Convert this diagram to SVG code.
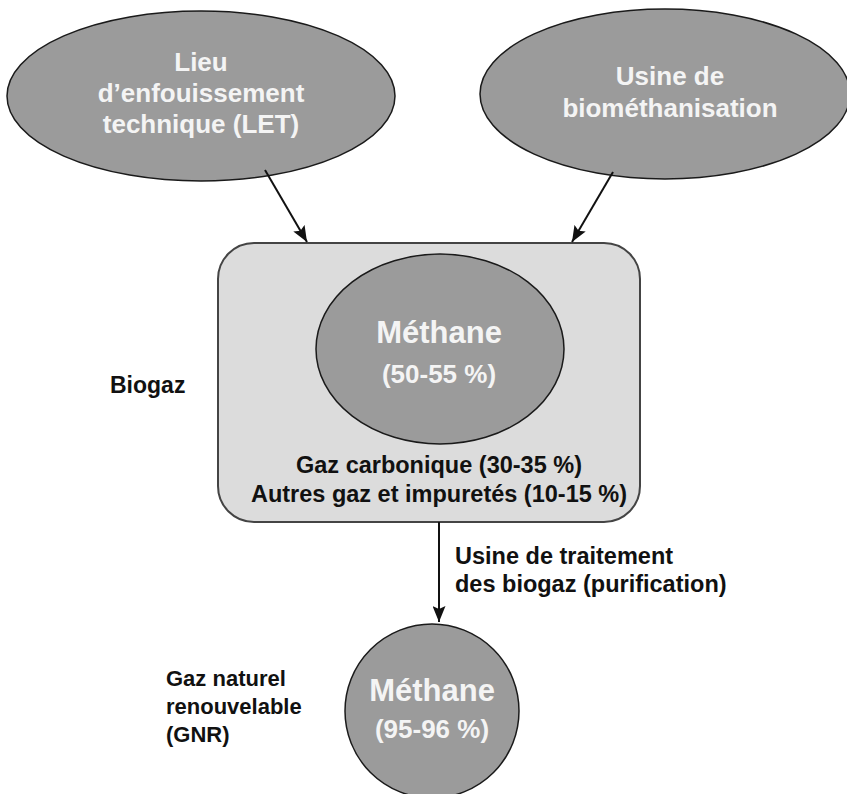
<svg xmlns="http://www.w3.org/2000/svg" width="847" height="794" viewBox="0 0 847 794">
<defs>
<style>
.shape{fill:#9b9b9b;stroke:#1a1a1a;stroke-width:1.5}
.box{fill:#dcdcdc;stroke:#444;stroke-width:2}
.wt{fill:#f4f4f4;font-family:"Liberation Sans",Arial,sans-serif;font-weight:bold;text-anchor:middle}
.bt{fill:#111;font-family:"Liberation Sans",Arial,sans-serif;font-weight:bold}
.conn{stroke:#111;stroke-width:2;fill:none}
</style>
<marker id="ah" viewBox="0 0 16 13" refX="16" refY="6.5" markerWidth="16" markerHeight="13" markerUnits="userSpaceOnUse" orient="auto">
<path d="M0,0 L16,6.5 L0,13 L3,6.5 Z" fill="#111"/>
</marker>
</defs>
<rect width="847" height="794" fill="#ffffff"/>
<g id="let">
<ellipse class="shape" cx="201" cy="96" rx="194" ry="85"/>
<text class="wt" font-size="26" x="201" y="71">Lieu</text>
<text class="wt" font-size="26" x="201" y="102">d’enfouissement</text>
<text class="wt" font-size="26" x="201" y="133">technique (LET)</text>
</g>
<g id="usine-bio">
<ellipse class="shape" cx="665" cy="94" rx="185" ry="85"/>
<text class="wt" font-size="26" x="670" y="85">Usine de</text>
<text class="wt" font-size="26" x="670" y="117">biométhanisation</text>
</g>
<g id="biogaz">
<rect class="box" x="218" y="243" width="422" height="279" rx="36" ry="36"/>
<ellipse class="shape" cx="440" cy="349" rx="124" ry="95"/>
<text class="wt" font-size="31" x="439" y="343">Méthane</text>
<text class="wt" font-size="26" x="439" y="383">(50-55 %)</text>
<text class="bt" font-size="23.5" x="439" y="473" text-anchor="middle">Gaz carbonique (30-35 %)</text>
<text class="bt" font-size="23.5" x="439" y="502" text-anchor="middle">Autres gaz et impuretés (10-15 %)</text>
</g>
<g id="biogaz-label">
<text class="bt" font-size="23" x="110" y="393">Biogaz</text>
</g>
<g id="gnr">
<circle class="shape" cx="432" cy="711" r="87"/>
<text class="wt" font-size="31" x="432" y="701">Méthane</text>
<text class="wt" font-size="26" x="432" y="738">(95-96 %)</text>
</g>
<g id="gnr-label">
<text class="bt" font-size="22" x="166" y="686">Gaz naturel</text>
<text class="bt" font-size="22" x="166" y="714">renouvelable</text>
<text class="bt" font-size="22" x="166" y="742">(GNR)</text>
</g>
<g id="connectors">
<line class="conn" x1="265" y1="170" x2="307" y2="242" marker-end="url(#ah)"/>
<line class="conn" x1="613" y1="172" x2="572" y2="242" marker-end="url(#ah)"/>
<line class="conn" x1="439" y1="522" x2="439" y2="622" marker-end="url(#ah)"/>
<text class="bt" font-size="23.5" x="455" y="564">Usine de traitement</text>
<text class="bt" font-size="23.5" x="455" y="592">des biogaz (purification)</text>
</g>
</svg>
